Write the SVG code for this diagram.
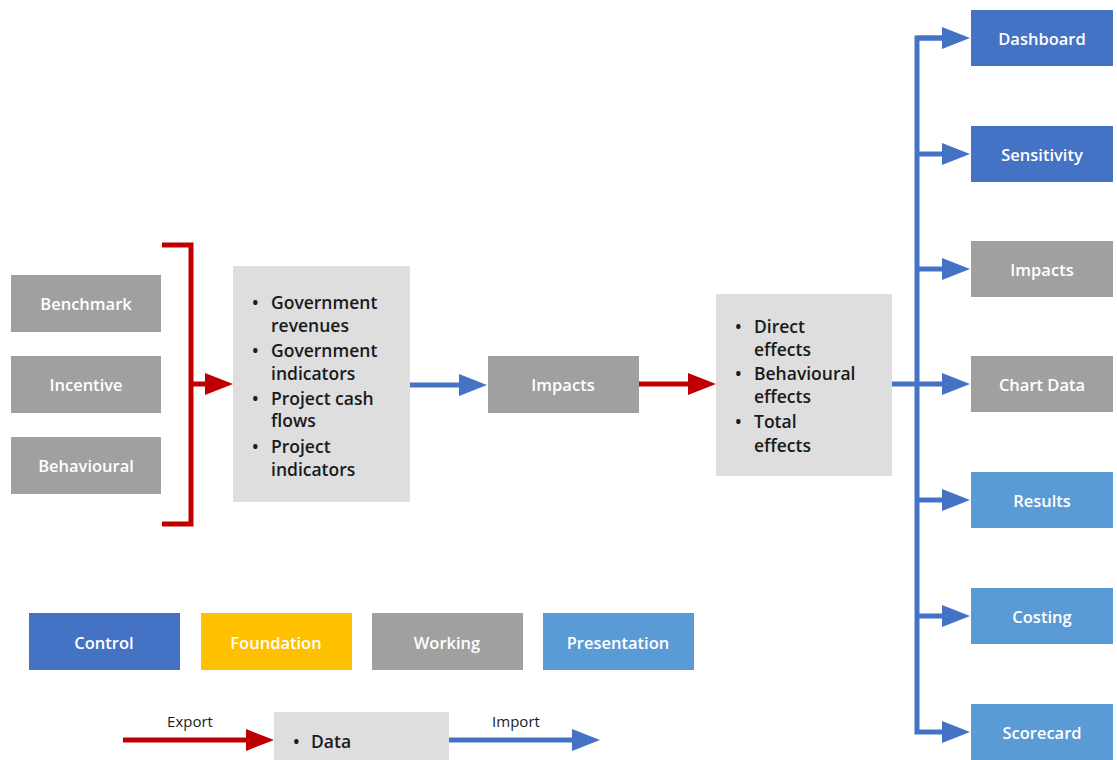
<svg xmlns="http://www.w3.org/2000/svg" width="1117" height="760" viewBox="0 0 1117 760">
  <style>
    .box-grey { fill: #a0a0a0; }
    .box-light { fill: #dedede; }
    .box-control { fill: #4472c4; }
    .box-pres { fill: #5b9bd5; }
    .box-found { fill: #ffc000; }
    .lbl { font-family: "Open Sans", "Liberation Sans", sans-serif; font-weight: 600; font-size: 16.5px; fill: #ffffff; text-anchor: middle; dominant-baseline: central; }
    .txt { font-family: "Open Sans", "Liberation Sans", sans-serif; font-weight: 600; font-size: 17.5px; fill: #1a1a1a; }
    .small { font-family: "Open Sans", "Liberation Sans", sans-serif; font-size: 15px; fill: #1a1a1a; text-anchor: middle; }
    .red { stroke: #c00000; stroke-width: 5; fill: none; }
    .blue { stroke: #4472c4; stroke-width: 5; fill: none; }
  </style>
  <defs>
    <marker id="headRed" markerUnits="userSpaceOnUse" markerWidth="28" markerHeight="22" refX="0" refY="11" orient="auto">
      <path d="M0,0 L28,11 L0,22 Z" fill="#c00000"/>
    </marker>
    <marker id="headBlue" markerUnits="userSpaceOnUse" markerWidth="28" markerHeight="22" refX="0" refY="11" orient="auto">
      <path d="M0,0 L28,11 L0,22 Z" fill="#4472c4"/>
    </marker>
  </defs>

  <rect width="1117" height="760" fill="#ffffff"/>

  <!-- scenario inputs -->
  <g id="benchmark"><rect class="box-grey" x="11" y="275" width="150" height="57"/><text class="lbl" x="86" y="303">Benchmark</text></g>
  <g id="incentive"><rect class="box-grey" x="11" y="356" width="150" height="57"/><text class="lbl" x="86" y="384">Incentive</text></g>
  <g id="behavioural"><rect class="box-grey" x="11" y="437" width="150" height="57"/><text class="lbl" x="86" y="465">Behavioural</text></g>

  <!-- exported data from scenarios -->
  <g id="scenario-data">
    <rect class="box-light" x="233" y="266" width="177" height="236"/>
    <g class="txt">
      <text x="252" y="309">•</text><text x="271" y="309">Government</text>
      <text x="271" y="332">revenues</text>
      <text x="252" y="357">•</text><text x="271" y="357">Government</text>
      <text x="271" y="380">indicators</text>
      <text x="252" y="405">•</text><text x="271" y="405">Project cash</text>
      <text x="271" y="427">flows</text>
      <text x="252" y="453">•</text><text x="271" y="453">Project</text>
      <text x="271" y="476">indicators</text>
    </g>
  </g>

  <g id="impacts-work"><rect class="box-grey" x="488" y="356" width="151" height="57"/><text class="lbl" x="563" y="384">Impacts</text></g>

  <!-- exported effects -->
  <g id="effects">
    <rect class="box-light" x="716" y="294" width="176" height="182"/>
    <g class="txt">
      <text x="735" y="333">•</text><text x="754" y="333">Direct</text>
      <text x="754" y="356">effects</text>
      <text x="735" y="380">•</text><text x="754" y="380">Behavioural</text>
      <text x="754" y="403">effects</text>
      <text x="735" y="428">•</text><text x="754" y="428">Total</text>
      <text x="754" y="452">effects</text>
    </g>
  </g>

  <!-- output sheets -->
  <g id="dashboard"><rect class="box-control" x="971" y="10" width="142" height="56"/><text class="lbl" x="1042" y="38">Dashboard</text></g>
  <g id="sensitivity"><rect class="box-control" x="971" y="126" width="142" height="56"/><text class="lbl" x="1042" y="154">Sensitivity</text></g>
  <g id="impacts-out"><rect class="box-grey" x="971" y="241" width="142" height="56"/><text class="lbl" x="1042" y="269">Impacts</text></g>
  <g id="chart-data"><rect class="box-grey" x="971" y="356" width="142" height="56"/><text class="lbl" x="1042" y="384">Chart Data</text></g>
  <g id="results"><rect class="box-pres" x="971" y="472" width="142" height="56"/><text class="lbl" x="1042" y="500">Results</text></g>
  <g id="costing"><rect class="box-pres" x="971" y="588" width="142" height="56"/><text class="lbl" x="1042" y="616">Costing</text></g>
  <g id="scorecard"><rect class="box-pres" x="971" y="704" width="142" height="56"/><text class="lbl" x="1042" y="732">Scorecard</text></g>

  <!-- legend -->
  <g id="legend-control"><rect class="box-control" x="29" y="613" width="151" height="57"/><text class="lbl" x="104" y="642">Control</text></g>
  <g id="legend-foundation"><rect class="box-found" x="201" y="613" width="151" height="57"/><text class="lbl" x="276" y="642">Foundation</text></g>
  <g id="legend-working"><rect class="box-grey" x="372" y="613" width="151" height="57"/><text class="lbl" x="447" y="642">Working</text></g>
  <g id="legend-presentation"><rect class="box-pres" x="543" y="613" width="151" height="57"/><text class="lbl" x="618" y="642">Presentation</text></g>

  <g id="legend-data">
    <rect class="box-light" x="274" y="712" width="175" height="48"/>
    <text class="txt" x="293" y="748">•</text><text class="txt" x="311" y="748">Data</text>
  </g>
  <text class="small" x="190" y="727">Export</text>
  <text class="small" x="516" y="727">Import</text>

  <!-- connectors -->
  <g id="connectors">
    <path class="red" d="M162,245 H191 V524 H162" stroke-width="4.5"/>
    <path class="red" d="M191,384 H205" marker-end="url(#headRed)"/>
    <path class="blue" d="M410,385 H459" marker-end="url(#headBlue)"/>
    <path class="red" d="M639,384 H688" marker-end="url(#headRed)"/>
    <path class="blue" d="M892,384 H942" marker-end="url(#headBlue)"/>
    <path class="blue" d="M942,38 H917 V732 H942" marker-end="url(#headBlue)"/>
    <path class="blue" d="M917,38 H942" marker-end="url(#headBlue)"/>
    <path class="blue" d="M917,154 H942" marker-end="url(#headBlue)"/>
    <path class="blue" d="M917,269 H942" marker-end="url(#headBlue)"/>
    <path class="blue" d="M917,500 H942" marker-end="url(#headBlue)"/>
    <path class="blue" d="M917,616 H942" marker-end="url(#headBlue)"/>
    <path class="red" d="M123,740 H246" marker-end="url(#headRed)"/>
    <path class="blue" d="M449,740 H572" marker-end="url(#headBlue)"/>
  </g>
</svg>
